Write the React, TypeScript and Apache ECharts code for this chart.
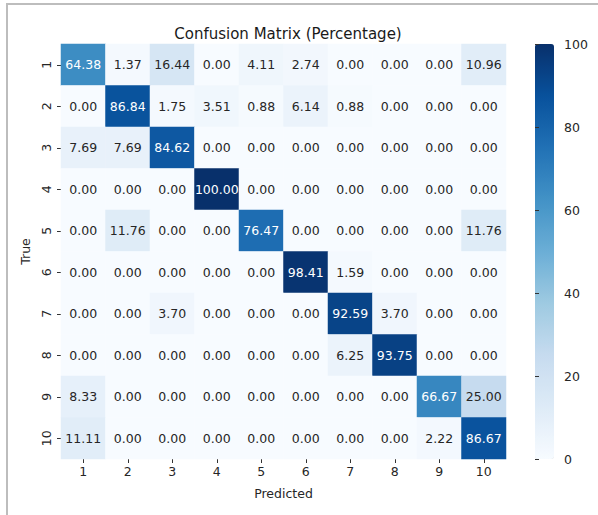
import React, { useEffect, useRef } from "react";
import * as echarts from "echarts";

const categories = ["1", "2", "3", "4", "5", "6", "7", "8", "9", "10"];

const matrix: number[][] = [
  [64.38, 1.37, 16.44, 0.0, 4.11, 2.74, 0.0, 0.0, 0.0, 10.96],
  [0.0, 86.84, 1.75, 3.51, 0.88, 6.14, 0.88, 0.0, 0.0, 0.0],
  [7.69, 7.69, 84.62, 0.0, 0.0, 0.0, 0.0, 0.0, 0.0, 0.0],
  [0.0, 0.0, 0.0, 100.0, 0.0, 0.0, 0.0, 0.0, 0.0, 0.0],
  [0.0, 11.76, 0.0, 0.0, 76.47, 0.0, 0.0, 0.0, 0.0, 11.76],
  [0.0, 0.0, 0.0, 0.0, 0.0, 98.41, 1.59, 0.0, 0.0, 0.0],
  [0.0, 0.0, 3.7, 0.0, 0.0, 0.0, 92.59, 3.7, 0.0, 0.0],
  [0.0, 0.0, 0.0, 0.0, 0.0, 0.0, 6.25, 93.75, 0.0, 0.0],
  [8.33, 0.0, 0.0, 0.0, 0.0, 0.0, 0.0, 0.0, 66.67, 25.0],
  [11.11, 0.0, 0.0, 0.0, 0.0, 0.0, 0.0, 0.0, 2.22, 86.67],
];

const colorbarTicks = [0, 20, 40, 60, 80, 100];

const BLUES = [
  "#f7fbff",
  "#deebf7",
  "#c6dbef",
  "#9ecae1",
  "#6baed6",
  "#4292c6",
  "#2171b5",
  "#08519c",
  "#08306b",
];

const FONT = "DejaVu Sans";

export default function App() {
  const ref = useRef<HTMLDivElement>(null);

  useEffect(() => {
    document.body.style.margin = "0";
    if (!ref.current) return;
    const chart = echarts.init(ref.current, null, { renderer: "svg" });

    const data: any[] = [];
    matrix.forEach((row, r) => {
      row.forEach((v, c) => {
        data.push({
          value: [c, r, v],
          label: { color: v > 45 ? "#ffffff" : "#262626" },
        });
      });
    });

    const gridTop = 44;
    const gridHeight = 415;

    chart.setOption({
      animation: false,
      backgroundColor: "#ffffff",
      textStyle: { fontFamily: FONT },
      title: {
        text: "Confusion Matrix (Percentage)",
        left: 283,
        top: 21,
        textAlign: "center",
        textStyle: {
          fontFamily: FONT,
          fontSize: 15,
          fontWeight: "normal",
          color: "#1a1a1a",
        },
      },
      grid: [
        { left: 61, top: gridTop, width: 445, height: gridHeight },
        { left: 535, top: gridTop, width: 19, height: gridHeight },
      ],
      xAxis: [
        {
          type: "category",
          gridIndex: 0,
          data: categories,
          position: "bottom",
          name: "Predicted",
          nameLocation: "middle",
          nameGap: 28,
          nameTextStyle: { fontFamily: FONT, fontSize: 12.5, color: "#262626" },
          axisLine: { show: false },
          axisTick: {
            show: true,
            alignWithLabel: true,
            length: 4,
            lineStyle: { color: "#333" },
          },
          axisLabel: {
            fontFamily: FONT,
            fontSize: 12.5,
            color: "#262626",
            margin: 6,
          },
          splitLine: { show: false },
        },
        {
          type: "value",
          gridIndex: 1,
          show: false,
          min: 0,
          max: 1,
        },
      ],
      yAxis: [
        {
          type: "category",
          gridIndex: 0,
          data: categories,
          inverse: true,
          name: "True",
          nameLocation: "middle",
          nameGap: 26,
          nameRotate: 90,
          nameTextStyle: { fontFamily: FONT, fontSize: 12.5, color: "#262626" },
          axisLine: { show: false },
          axisTick: {
            show: true,
            alignWithLabel: true,
            length: 4,
            lineStyle: { color: "#333" },
          },
          axisLabel: {
            fontFamily: FONT,
            fontSize: 12.5,
            color: "#262626",
            rotate: 90,
            margin: 8,
          },
          splitLine: { show: false },
        },
        {
          type: "value",
          gridIndex: 1,
          position: "right",
          min: 0,
          max: 100,
          interval: 20,
          z: 10,
          data: colorbarTicks,
          axisLine: { show: false },
          axisTick: {
            show: true,
            length: 4,
            lineStyle: { color: "#333" },
          },
          axisLabel: {
            fontFamily: FONT,
            fontSize: 12.5,
            color: "#262626",
            margin: 10,
          },
          splitLine: { show: false },
        },
      ],
      visualMap: {
        type: "continuous",
        seriesIndex: 0,
        min: 0,
        max: 100,
        calculable: false,
        orient: "vertical",
        left: 535,
        top: gridTop,
        itemWidth: 19,
        itemHeight: gridHeight,
        padding: 0,
        z: 1,
        text: ["", ""],
        showLabel: false,
        inRange: { color: BLUES },
      },
      series: [
        {
          type: "heatmap",
          xAxisIndex: 0,
          yAxisIndex: 0,
          data,
          label: {
            show: true,
            fontFamily: FONT,
            fontSize: 12.5,
            formatter: (p: any) => Number(p.value[2]).toFixed(2),
          },
          itemStyle: { borderWidth: 0 },
          emphasis: { disabled: true },
        },
        {
          type: "scatter",
          xAxisIndex: 1,
          yAxisIndex: 1,
          data: [],
          silent: true,
        },
      ],
      graphic: [
        {
          type: "polyline",
          shape: {
            points: [
              [7, 515],
              [7, 4],
              [598, 4],
            ],
          },
          style: { stroke: "#bdbdbd", lineWidth: 2, fill: "none" },
          silent: true,
        },
      ],
    });

    return () => {
      chart.dispose();
    };
  }, []);

  return <div ref={ref} style={{ width: 598, height: 515 }} />;
}
